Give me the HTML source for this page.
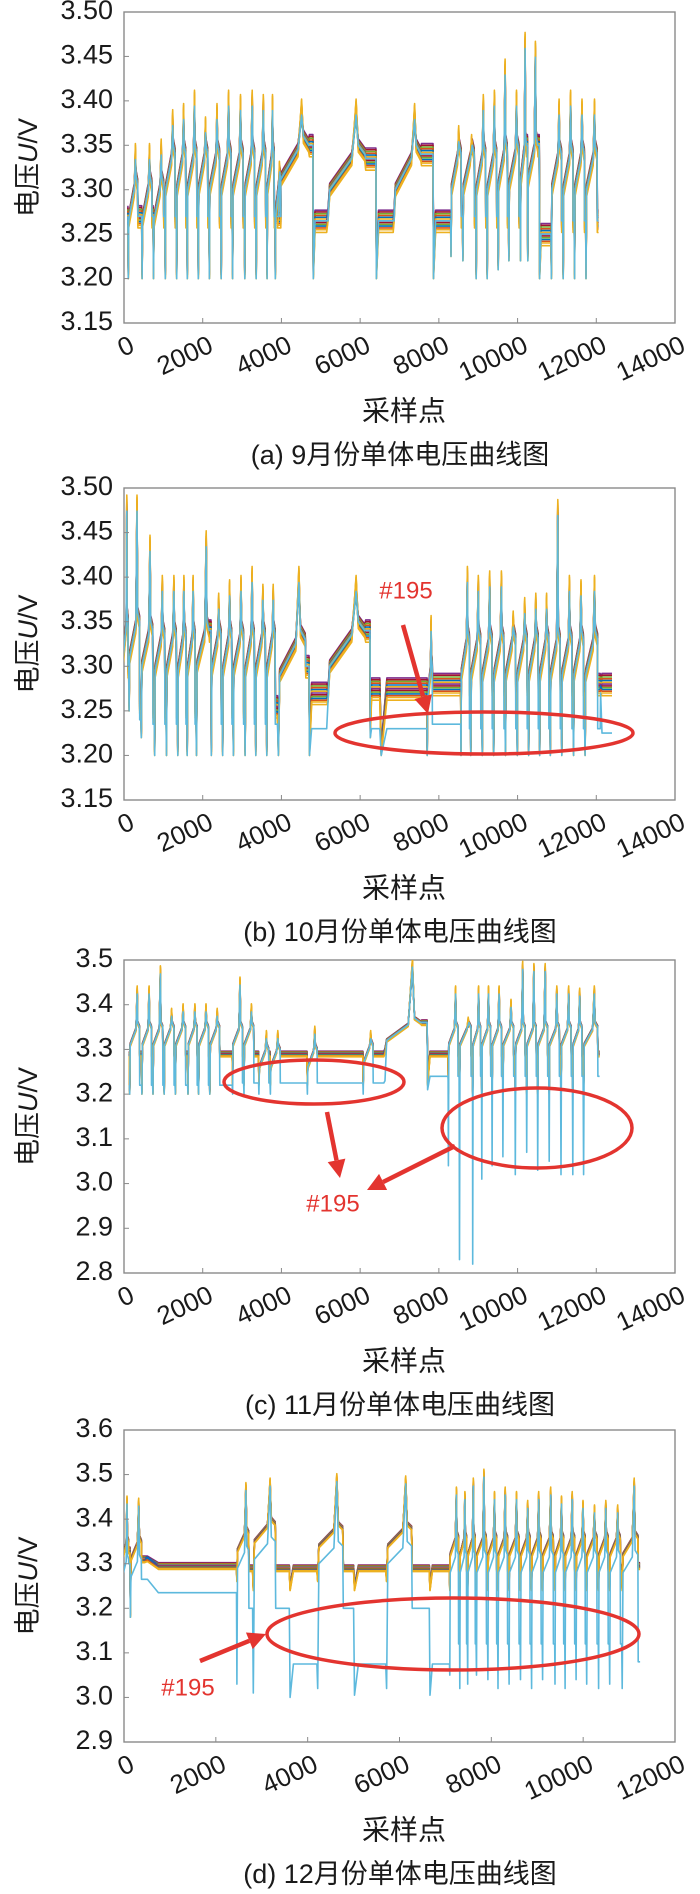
<!DOCTYPE html>
<html><head><meta charset="utf-8"><style>
html,body{margin:0;padding:0;background:#fff}
svg{display:block}
text{font-family:"Liberation Sans","Noto Sans CJK SC",sans-serif;fill:#1a1a1a}
</style></head><body>
<svg id="fig" width="700" height="1894" viewBox="0 0 700 1894" xmlns="http://www.w3.org/2000/svg"></svg>
<script>
// ---------- data (cycle descriptions) ----------
// Panel (a) Sept
const aCycX = [100,450,740,1040,1330,1600,1880,2160,2460,2750,3060,3350,3630,3840,3900,4800,5150,6400,6840,7850,8300,8600,8940,9220,9500,9770,10070,10250,10550,10850,11150,11440,11730];
const aCycW = [280,290,300,290,270,280,280,300,290,310,290,280,210,160,900,350,1100,440,800,450,300,340,280,280,270,300,180,300,300,300,290,290,330];
const aCycHi = [3.34,3.34,3.345,3.378,3.385,3.40,3.37,3.385,3.40,3.395,3.40,3.395,3.395,3.32,3.39,null,3.39,null,3.385,null,3.36,3.35,3.395,3.40,3.435,3.40,3.465,3.455,null,3.39,3.40,3.39,3.39];
const aCycLo = [3.20,3.20,3.20,3.20,3.20,3.20,3.20,3.20,3.20,3.20,3.20,3.20,3.20,3.20,3.27,3.20,3.265,3.20,3.265,3.20,3.225,3.22,3.20,3.20,3.21,3.22,3.22,3.22,3.20,3.20,3.20,3.20,3.20];
const aCycPlat = [3.305,3.305,3.305,3.34,3.34,3.34,3.34,3.34,3.34,3.34,3.34,3.34,3.34,3.31,3.35,3.3,3.34,3.3,3.34,3.3,3.34,3.34,3.34,3.34,3.345,3.345,3.35,3.35,3.3,3.34,3.34,3.34,3.34];
const aCycRest = [3.27,3.27,3.27,3.27,3.27,3.27,3.27,3.27,3.27,3.27,3.27,3.27,3.27,3.27,3.35,3.265,3.335,3.265,3.34,3.265,3.27,3.27,3.27,3.27,3.27,3.27,3.35,3.35,3.25,3.265,3.265,3.265,3.265];

// Panel (b) Oct
const bCycX = [-30,120,430,770,1070,1360,1600,1830,2210,2500,2770,3070,3340,3620,3900,4700,5150,6250,6500,7700,8554,8804,9094,9384,9684,9984,10274,10554,10824,11114,11414,11704,12100];
const bCycW = [150,310,340,300,290,240,230,380,290,270,300,270,280,250,800,450,1100,250,1200,150,250,290,290,300,300,290,280,270,290,300,290,370,300];
const bCycHi = [3.48,3.48,3.435,3.39,3.39,3.39,3.39,3.44,3.37,3.385,3.39,3.40,3.38,3.38,3.40,null,3.39,null,null,3.345,3.40,3.39,3.395,3.395,3.35,3.365,3.37,3.37,3.475,3.39,3.385,3.39,null];
const bCycLo = [3.30,3.25,3.22,3.20,3.20,3.20,3.20,3.20,3.20,3.20,3.20,3.20,3.20,3.20,3.20,3.20,3.26,3.22,3.20,3.20,3.20,3.20,3.20,3.20,3.20,3.20,3.20,3.20,3.20,3.20,3.20,3.20,3.27];
const bCycPlat = [3.35,3.35,3.34,3.335,3.335,3.335,3.335,3.34,3.335,3.335,3.335,3.335,3.335,3.335,3.33,3.3,3.34,3.3,3.3,3.30,3.33,3.33,3.33,3.33,3.33,3.33,3.33,3.33,3.33,3.33,3.33,3.33,3.3];
const bCycRest = [3.30,3.26,3.255,3.255,3.255,3.255,3.255,3.34,3.255,3.255,3.255,3.255,3.255,3.255,3.30,3.27,3.34,3.275,3.275,3.28,3.28,3.28,3.28,3.28,3.28,3.28,3.28,3.28,3.28,3.28,3.28,3.28,3.28];
const bRest195 = [3.30,3.24,3.235,3.235,3.235,3.235,3.235,3.34,3.235,3.235,3.235,3.235,3.235,3.235,3.30,3.23,3.34,3.23,3.23,3.235,3.23,3.23,3.23,3.23,3.23,3.23,3.23,3.23,3.23,3.23,3.23,3.23,3.225];

// Panel (c) Nov
const cCycX = [137,447,727,1012,1297,1617,1887,2172,2750,3040,3420,3710,4650,6070,6600,7700,8234,8514,8854,9084,9344,9619,9934,10224,10504,10794,11094,11394,11664];
const cCycW = [290,280,290,290,300,270,290,290,290,290,290,290,290,290,1070,500,280,340,230,260,275,315,290,280,290,300,300,270,420];
const cCycHi = [3.43,3.43,3.475,3.38,3.39,3.39,3.39,3.38,3.45,3.39,3.33,3.33,3.34,3.33,3.49,null,3.43,3.36,3.43,3.43,3.43,3.40,3.485,3.48,3.48,3.43,3.43,3.425,3.43];
const cCycLo = [3.20,3.20,3.20,3.20,3.20,3.20,3.20,3.20,3.22,3.22,3.22,3.22,3.22,3.22,3.29,3.22,3.20,3.20,3.20,3.20,3.20,3.20,3.20,3.20,3.20,3.20,3.20,3.20,3.20];
const cCycPlat = [3.35,3.35,3.35,3.35,3.35,3.35,3.35,3.35,3.35,3.35,3.30,3.30,3.30,3.31,3.36,3.3,3.35,3.35,3.35,3.35,3.35,3.35,3.35,3.35,3.35,3.35,3.35,3.35,3.35];
const cCycRest = [3.29,3.29,3.29,3.29,3.29,3.29,3.29,3.29,3.29,3.29,3.29,3.29,3.29,3.29,3.36,3.29,3.29,3.29,3.29,3.29,3.29,3.29,3.29,3.29,3.29,3.29,3.29,3.29,3.29];
const cLo195 = [3.20,3.20,3.20,3.20,3.20,3.20,3.20,3.20,3.20,3.20,3.20,3.20,3.20,3.20,3.23,3.21,3.04,2.83,2.82,3.01,3.04,3.06,3.02,3.07,3.03,3.05,3.02,3.02,3.02];
const cRest195 = [3.22,3.22,3.22,3.22,3.22,3.22,3.22,3.22,3.225,3.225,3.225,3.225,3.225,3.225,3.36,3.24,3.24,3.24,3.24,3.24,3.24,3.24,3.24,3.24,3.24,3.24,3.24,3.24,3.24];

// Panel (d) Dec
const dCycX = [-50,130,450,2450,2800,3600,4200,5000,5700,6650,7089,7309,7479,7669,7919,8139,8379,8629,8869,9109,9379,9599,9839,10069,10329,10569,10839];
const dCycW = [170,280,2000,300,560,600,640,700,640,440,220,170,190,250,220,240,250,240,240,270,220,240,230,260,240,270,400];
const dCycHi = [3.44,3.435,null,3.47,3.48,null,3.49,null,3.485,null,3.46,3.45,3.48,3.50,3.45,3.46,3.45,3.43,3.45,3.46,3.44,3.45,3.43,3.42,3.43,3.42,3.48];
const dCycLo = [3.30,3.18,3.305,3.26,3.24,3.24,3.26,3.24,3.26,3.24,3.24,3.24,3.24,3.24,3.24,3.24,3.24,3.24,3.24,3.24,3.24,3.24,3.24,3.24,3.24,3.24,3.24];
const dCycPlat = [3.35,3.35,3.3,3.37,3.39,3.3,3.38,3.3,3.38,3.3,3.36,3.36,3.36,3.36,3.36,3.36,3.36,3.36,3.36,3.36,3.36,3.36,3.36,3.36,3.36,3.36,3.36];
const dCycRest = [3.33,3.31,3.295,3.29,3.29,3.29,3.29,3.29,3.29,3.29,3.29,3.29,3.29,3.29,3.29,3.29,3.29,3.29,3.29,3.29,3.29,3.29,3.29,3.29,3.29,3.29,3.295];
const dLo195 = [3.30,3.18,3.265,3.03,3.01,3.00,3.02,3.005,3.02,3.005,3.05,3.02,3.03,3.05,3.04,3.02,3.03,3.04,3.02,3.04,3.03,3.02,3.04,3.03,3.02,3.03,3.02];
const dRest195 = [3.30,3.265,3.235,3.20,3.20,3.075,3.20,3.075,3.20,3.075,3.12,3.12,3.12,3.12,3.12,3.12,3.12,3.12,3.12,3.12,3.12,3.12,3.12,3.12,3.12,3.12,3.08];

// tick labels
const yTicksA = ["3.15","3.20","3.25","3.30","3.35","3.40","3.45","3.50"];
const yTicksB = ["3.15","3.20","3.25","3.30","3.35","3.40","3.45","3.50"];
const yTicksC = ["2.8","2.9","3.0","3.1","3.2","3.3","3.4","3.5"];
const yTicksD = ["2.9","3.0","3.1","3.2","3.3","3.4","3.5","3.6"];
const xTicks14 = ["0","2000","4000","6000","8000","10000","12000","14000"];
const xTicks12 = ["0","2000","4000","6000","8000","10000","12000"];

// cell band (other cells drawn around the typical trace)
const cellColors = ['#7E2F8E','#A2142F','#77AC30','#D95319','#0072BD','#EDB120','#7E2F8E','#A2142F','#77AC30','#0072BD','#D95319','#EDB120','#EDB120','#5DB9DD'];
const cellRest = [0.012,0.010,0.008,0.006,0.004,0.002,0.000,-0.002,-0.004,-0.006,-0.008,-0.010,-0.013,0];
const cellHi = [-0.010,-0.006,-0.008,0.004,0.0,0.008,-0.004,-0.002,-0.006,0.002,0.006,0.010,0.012,-0.006];
const cellLo = [0.012,0.010,0.009,0.006,0.010,0.002,0.008,0.006,0.004,0.008,0.004,0.0,0.0,0.0];

// ---------- drawing ----------
const NS = 'http://www.w3.org/2000/svg';
const svg = document.getElementById('fig');
function mk(tag, attrs, parent) {
  const e = document.createElementNS(NS, tag);
  for (const k in attrs) e.setAttribute(k, attrs[k]);
  (parent || svg).appendChild(e);
  return e;
}
const L = 124, R = 675;

const panels = [
  {id:'a', T:12, B:323, ymin:3.15, ymax:3.50, xmax:14000, yt:yTicksA, xt:xTicks14, X:aCycX, W:aCycW, H:aCycHi, Lo:aCycLo, P:aCycPlat, Rs:aCycRest, band:1, cap:'(a) 9月份单体电压曲线图'},
  {id:'b', T:488, B:800, ymin:3.15, ymax:3.50, xmax:14000, yt:yTicksB, xt:xTicks14, X:bCycX, W:bCycW, H:bCycHi, Lo:bCycLo, P:bCycPlat, Rs:bCycRest, R195:bRest195, band:1, cap:'(b) 10月份单体电压曲线图'},
  {id:'c', T:960, B:1273, ymin:2.8, ymax:3.5, xmax:14000, yt:yTicksC, xt:xTicks14, X:cCycX, W:cCycW, H:cCycHi, Lo:cCycLo, P:cCycPlat, Rs:cCycRest, Lo195:cLo195, R195:cRest195, band:0.5, cap:'(c) 11月份单体电压曲线图'},
  {id:'d', T:1430, B:1742, ymin:2.9, ymax:3.6, xmax:12000, yt:yTicksD, xt:xTicks12, X:dCycX, W:dCycW, H:dCycHi, Lo:dCycLo, P:dCycPlat, Rs:dCycRest, Lo195:dLo195, R195:dRest195, P195off:-0.04, band:0.6, cap:'(d) 12月份单体电压曲线图'}
];

function buildPoints(p, k, is195) {
  const ro = cellRest[k] * p.band, ho = cellHi[k], lo = cellLo[k];
  const pts = [];
  let prev = (is195 && p.R195 ? p.R195[0] : p.Rs[0]) + ro;
  for (let i = 0; i < p.X.length; i++) {
    const x0 = p.X[i], w = p.W[i];
    const rest = (is195 && p.R195 ? p.R195[i] : p.Rs[i]) + ro;
    const low = (is195 && p.Lo195 ? p.Lo195[i] : p.Lo[i]) + lo;
    const plat = p.P[i] + ro * 0.6 + (is195 && p.P195off ? p.P195off : 0);
    pts.push([x0, prev]);
    pts.push([x0 + 0.03 * w, low]);
    if (p.H[i] === null) {
      pts.push([x0 + 0.15 * w, rest]);
    } else {
      pts.push([x0 + 0.07 * w, plat - 0.04]);
      pts.push([x0 + 0.58 * w, plat - 0.005]);
      pts.push([x0 + 0.68 * w, p.H[i] + ho]);
      pts.push([x0 + 0.73 * w, plat + 0.01]);
      pts.push([x0 + 0.88 * w, plat]);
      pts.push([x0 + 0.90 * w, rest]);
    }
    prev = rest;
  }
  const last = p.X.length - 1;
  pts.push([p.X[last] + p.W[last], prev]);
  return pts;
}

panels.forEach((p) => {
  const g = mk('g', {});
  
  
  const sx = v => L + v / p.xmax * (R - L);
  const sy = v => p.B - (v - p.ymin) / (p.ymax - p.ymin) * (p.B - p.T);
  const cp = mk('clipPath', {id: 'clip' + p.id}, g);
  mk('rect', {x: L, y: p.T, width: R - L, height: p.B - p.T}, cp);
  const box = mk('rect', {x: L, y: p.T, width: R - L, height: p.B - p.T, fill: '#fff', stroke: '#8a8a8a', 'stroke-width': 1.4}, g);
  
  
  const sg = mk('g', {'clip-path': 'url(#clip' + p.id + ')'}, g);
  
  
  const has195 = !!p.R195;
  cellColors.forEach((col, k) => {
    const is195 = has195 && k === cellColors.length - 1;
    const pts = buildPoints(p, k, is195);
    const d = pts.map((q, i) => (i ? 'L' : 'M') + sx(q[0]).toFixed(1) + ' ' + sy(q[1]).toFixed(1)).join('');
    const path = mk('path', {d: d, fill: 'none', stroke: col, 'stroke-width': 1.6, 'stroke-linejoin': 'round'}, sg);
    
    
  });
  p.yt.forEach((lab) => {
    const y = sy(parseFloat(lab));
    mk('line', {x1: L, x2: L + 5, y1: y, y2: y, stroke: '#8a8a8a', 'stroke-width': 1}, g);
    const t = mk('text', {x: 113, y: y, 'text-anchor': 'end', 'dominant-baseline': 'middle', 'font-size': 27}, g);
    t.textContent = lab;
    
    
  });
  p.xt.forEach((lab) => {
    const x = sx(parseFloat(lab));
    mk('line', {x1: x, x2: x, y1: p.B, y2: p.B - 5, stroke: '#8a8a8a', 'stroke-width': 1}, g);
    const t = mk('text', {'text-anchor': 'end', 'font-size': 26, transform: 'translate(' + (x + 12) + ',' + (p.B + 28) + ') rotate(-25)'}, g);
    t.textContent = lab;
    
    
  });
  const yc = (p.T + p.B) / 2;
  const yt = mk('text', {'text-anchor': 'middle', 'dominant-baseline': 'middle', 'font-size': 27, transform: 'translate(30,' + yc + ') rotate(-90)'}, g);
  yt.innerHTML = '电压<tspan font-style="italic">U</tspan>/V';
  
  
  const xt = mk('text', {x: 404, y: p.B + 90, 'text-anchor': 'middle', 'dominant-baseline': 'middle', 'font-size': 28}, g);
  xt.textContent = '采样点';
  
  
  const cap = mk('text', {x: 400, y: p.B + 134, 'text-anchor': 'middle', 'dominant-baseline': 'middle', 'font-size': 27}, g);
  cap.textContent = p.cap;
  
  
});

// ---------- red annotations ----------
const RED = '#E3342F';
function ellipse(cx, cy, rx, ry, name) {
  const e = mk('ellipse', {cx: cx, cy: cy, rx: rx, ry: ry, fill: 'none', stroke: RED, 'stroke-width': 3.5});
  
  
}
function arrow(x1, y1, x2, y2, name) {
  const g = mk('g', {});
  
  
  const dx = x2 - x1, dy = y2 - y1, len = Math.hypot(dx, dy), ux = dx / len, uy = dy / len;
  const hl = 18, hw = 9;
  const bx = x2 - ux * hl, by = y2 - uy * hl;
  mk('line', {x1: x1, y1: y1, x2: bx, y2: by, stroke: RED, 'stroke-width': 4.5}, g);
  mk('polygon', {points: x2 + ',' + y2 + ' ' + (bx - uy * hw) + ',' + (by + ux * hw) + ' ' + (bx + uy * hw) + ',' + (by - ux * hw), fill: RED}, g);
}
function label(x, y, name) {
  const t = mk('text', {x: x, y: y, 'text-anchor': 'middle', 'dominant-baseline': 'middle', 'font-size': 24, style: 'fill:' + RED});
  t.textContent = '#195';
  
  
}
ellipse(484, 733, 149, 21, 'cell-195-highlight-b');
arrow(403, 625, 428, 714, 'cell-195-arrow-b');
label(406, 592, 'cell-195-label-b');
ellipse(314, 1082, 90, 22, 'cell-195-highlight-c1');
ellipse(537, 1128, 95, 40, 'cell-195-highlight-c2');
arrow(327, 1112, 340, 1178, 'cell-195-arrow-c1');
arrow(455, 1146, 367, 1190, 'cell-195-arrow-c2');
label(333, 1205, 'cell-195-label-c');
ellipse(453, 1634, 186, 36, 'cell-195-highlight-d');
arrow(200, 1661, 266, 1634, 'cell-195-arrow-d');
label(188, 1689, 'cell-195-label-d');
</script>
</body></html>
